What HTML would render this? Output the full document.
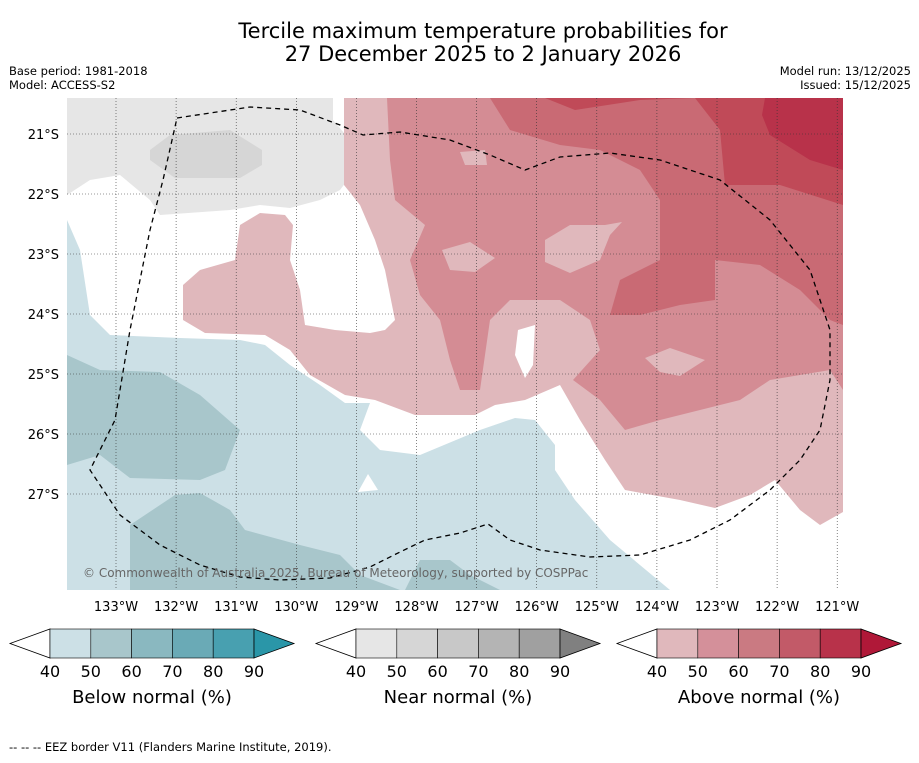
<!DOCTYPE html>
<html><head><meta charset="utf-8"><style>
body{margin:0;background:#fff;font-family:"Liberation Sans",sans-serif;}
svg text{font-family:"DejaVu Sans","Liberation Sans",sans-serif;}
</style></head><body>
<svg id="s" width="919" height="758" viewBox="0 0 919 758" xmlns="http://www.w3.org/2000/svg">
<text x="483" y="38" font-size="21" text-anchor="middle">Tercile maximum temperature probabilities for</text>
<text x="483" y="61" font-size="21" text-anchor="middle">27 December 2025 to 2 January 2026</text>
<text x="9" y="75" font-size="11.5">Base period: 1981-2018</text>
<text x="9" y="89" font-size="11.5">Model: ACCESS-S2</text>
<text x="911" y="75" font-size="11.5" text-anchor="end">Model run: 13/12/2025</text>
<text x="911" y="89" font-size="11.5" text-anchor="end">Issued: 15/12/2025</text>
<defs><clipPath id="mc"><rect x="67" y="98" width="776" height="492"/></clipPath></defs>
<g clip-path="url(#mc)">
<rect x="67" y="98" width="776" height="492" fill="#fff"/>
<polygon fill="#e6e6e6" points="67,98 333,98 333,120 350,140 355,170 340,190 320,200 290,208 260,205 230,210 160,215 150,200 120,175 90,180 67,195"/>
<polygon fill="#d6d6d6" points="150,150 170,135 230,130 262,150 262,165 240,178 175,178 150,160"/>
<polygon fill="#cce0e6" points="67,220 80,250 90,315 110,335 180,338 240,340 265,345 290,365 320,385 345,403 370,403 360,430 380,450 420,455 480,430 515,418 535,420 555,445 555,470 575,500 610,540 670,590 67,590"/>
<polygon fill="#fff" points="358,492 368,474 378,490"/>
<polygon fill="#a8c6cb" points="67,355 100,370 160,372 200,395 240,430 225,470 200,480 130,478 100,455 67,465"/>
<polygon fill="#a8c6cb" points="130,525 175,495 200,493 230,510 245,530 300,545 340,555 360,575 400,590 130,590"/>
<polygon fill="#a8c6cb" points="420,560 450,560 470,575 500,590 405,590"/>
<polygon fill="#e0b8bc" points="344,98 344,185 360,205 375,240 385,270 395,320 385,330 370,333 335,330 305,325 300,290 290,260 293,225 285,215 260,213 240,225 235,260 200,270 183,285 183,320 205,333 265,335 290,350 310,375 345,395 375,400 415,415 475,415 495,405 525,400 560,385 580,420 605,460 625,490 680,500 715,508 750,495 775,480 800,510 820,525 843,512 843,98"/>
<polygon fill="#d48c94" points="387,98 390,160 395,200 425,225 410,260 420,295 440,320 450,360 460,390 480,390 490,320 510,300 560,300 590,320 600,350 573,380 600,400 625,430 660,420 700,410 740,400 770,380 800,375 830,370 843,390 843,98"/>
<polygon fill="#fff" points="518,330 535,325 533,365 525,378 515,355"/>
<polygon fill="#e0b8bc" points="442,250 470,242 495,258 475,272 450,270"/>
<polygon fill="#e0b8bc" points="545,240 570,225 605,225 622,222 610,235 600,260 570,273 545,262"/>
<polygon fill="#e0b8bc" points="645,358 670,348 705,360 680,376 660,372"/>
<polygon fill="#e0b8bc" points="460,152 485,150 487,165 465,165"/>
<polygon fill="#c96a74" points="490,98 510,130 560,145 600,150 640,170 660,200 660,260 620,280 610,315 640,315 680,305 715,300 715,260 760,265 800,290 830,320 843,325 843,98"/>
<polygon fill="#c04a58" points="545,98 575,110 640,100 695,98 720,130 725,185 780,185 843,205 843,98"/>
<polygon fill="#b8324a" points="765,98 843,98 843,170 810,160 770,135 762,115"/>
<g id="grid"></g>
<polyline fill="none" stroke="#000" stroke-width="1.3" stroke-dasharray="5,4" points="177,118 250,107 300,110 340,125 363,135 400,132 450,140 490,155 525,170 560,157 610,153 660,160 720,180 770,220 810,270 830,330 830,380 820,430 800,460 770,490 730,520 690,540 640,555 590,557 540,550 510,540 488,524 460,533 425,540 400,552 370,567 330,578 280,580 240,577 200,565 160,545 120,515 90,470 115,420 130,330 150,230 163,180 177,118"/>
<text x="83" y="577" font-size="12" fill="#666">© Commonwealth of Australia 2025, Bureau of Meteorology, supported by COSPPac</text>
</g>
<g id="axes"></g>
<g id="cbars"></g>
<text x="9" y="751" font-size="11.5">--  --  -- EEZ border V11 (Flanders Marine Institute, 2019).</text>
</svg>
<script>
const lonLabels=["133°W","132°W","131°W","130°W","129°W","128°W","127°W","126°W","125°W","124°W","123°W","122°W","121°W"];
const latLabels=["21°S","22°S","23°S","24°S","25°S","26°S","27°S"];
const cbLevels=[40,50,60,70,80,90];
const cbTitles=["Below normal (%)","Near normal (%)","Above normal (%)"];
const cbColors=[["#cce0e6","#a8c6cb","#8ab8c0","#6aaab6","#48a0b0","#2a96a8"],["#e6e6e6","#d6d6d6","#c8c8c8","#b4b4b4","#a0a0a0","#808080"],["#e0b8bc","#d4909a","#ca7a82","#c25a68","#b8324a","#b01838"]];
const NS="http://www.w3.org/2000/svg";
function mk(t,a,p){const e=document.createElementNS(NS,t);for(const k in a)e.setAttribute(k,a[k]);p.appendChild(e);return e;}
const lonX=i=>116+i*60.1, latY=i=>134+i*60;
const g=document.getElementById('grid'),ax=document.getElementById('axes');
lonLabels.forEach((l,i)=>{const x=lonX(i);
const ln=mk('line',{x1:x,y1:98,x2:x,y2:590,stroke:'#333','stroke-width':0.6,'stroke-dasharray':'1,2'},g);

const t=mk('text',{x:x,y:611,'font-size':13,'text-anchor':'middle'},ax);t.textContent=l;
});
latLabels.forEach((l,i)=>{const y=latY(i);
const ln=mk('line',{x1:67,y1:y,x2:843,y2:y,stroke:'#333','stroke-width':0.6,'stroke-dasharray':'1,2'},g);

const t=mk('text',{x:59,y:y+5,'font-size':13,'text-anchor':'end'},ax);t.textContent=l;
});
const cb=document.getElementById('cbars');
const starts=[10,316,617];
starts.forEach((x0,b)=>{const x1=x0+40,w=40.8,n=cbLevels.length-1,x2=x1+w*n,top=629,bot=658,mid=643.5;
const lt=mk('polygon',{points:`${x0},${mid} ${x1},${top} ${x1},${bot}`,fill:'#fff',stroke:'#000','stroke-width':0.8},cb);

for(let i=0;i<n;i++){const r=mk('rect',{x:x1+i*w,y:top,width:w,height:bot-top,fill:cbColors[b][i],stroke:'#000','stroke-width':0.6},cb);
}
const rt=mk('polygon',{points:`${x2},${top} ${x2+40},${mid} ${x2},${bot}`,fill:cbColors[b][5],stroke:'#000','stroke-width':0.8},cb);

cbLevels.forEach((v,i)=>{const t=mk('text',{x:x1+i*w,y:677,'font-size':16,'text-anchor':'middle'},cb);t.textContent=v;
});
const tt=mk('text',{x:(x1+x2)/2,y:703,'font-size':18,'text-anchor':'middle'},cb);tt.textContent=cbTitles[b];
});
</script>
</body></html>
